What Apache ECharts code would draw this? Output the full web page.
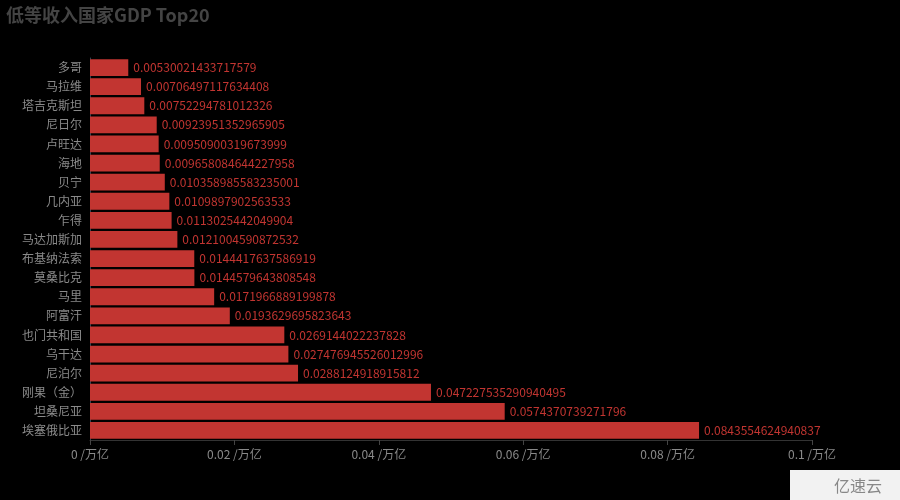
<!DOCTYPE html>
<html>
<head>
<meta charset="utf-8">
<script src="https://cdn.jsdelivr.net/npm/echarts@6/dist/echarts.min.js"></script>
<style>
    html, body { margin: 0; padding: 0; background: #000; }
    #main { width: 900px; height: 500px; }
</style>
</head>
<body>
<div id="main"></div>
<script>
// 国家（自下而上）
const countries = ['埃塞俄比亚', '坦桑尼亚', '刚果（金）', '尼泊尔', '乌干达', '也门共和国', '阿富汗', '马里',
    '莫桑比克', '布基纳法索', '马达加斯加', '乍得', '几内亚', '贝宁', '海地', '卢旺达', '尼日尔', '塔吉克斯坦', '马拉维', '多哥']
// GDP，单位：万亿
const gdp = [0.0843554624940837, 0.0574370739271796, 0.047227535290940495, 0.0288124918915812, 0.027476945526012996,
    0.0269144022237828, 0.0193629695823643, 0.0171966889199878, 0.0144579643808548, 0.0144417637586919,
    0.0121004590872532, 0.0113025442049904, 0.0109897902563533, 0.010358985583235001, 0.009658084644227958,
    0.00950900319673999, 0.00923951352965905, 0.00752294781012326, 0.00706497117634408, 0.00530021433717579]

const font = '"Noto Sans CJK SC", sans-serif'

const option = {
    backgroundColor: '#000000',
    title: {
        text: '低等收入国家GDP Top20',
        left: 1,
        top: 1,
        textStyle: { color: '#444444', fontSize: 18, fontWeight: 'bold', fontFamily: font }
    },
    grid: { left: 90, right: 88, top: 58, bottom: 60 },
    xAxis: {
        type: 'value',
        min: 0,
        max: 0.1,
        interval: 0.02,
        axisLine: { show: true, lineStyle: { color: '#333333' } },
        axisTick: { show: true, lineStyle: { color: '#444444' } },
        splitLine: { show: false },
        axisLabel: { color: '#8a8a8a', fontFamily: font, fontSize: 12, formatter: '{value} /万亿' }
    },
    yAxis: {
        type: 'category',
        data: countries,
        axisLine: { lineStyle: { color: '#2f4554' } },
        axisTick: { lineStyle: { color: '#2f4554' } },
        axisLabel: { color: '#8a8a8a', fontFamily: font, fontSize: 12 }
    },
    series: [{
        name: 'GDP',
        type: 'bar',
        data: gdp,
        barCategoryGap: '12%',
        itemStyle: { color: '#c23531' },
        label: {
            show: true,
            position: 'right',
            color: '#c23531',
            fontFamily: font,
            fontSize: 12
        }
    }],
    graphic: [{
        type: 'rect',
        right: 0,
        bottom: 0,
        shape: { width: 110, height: 30 },
        style: { fill: '#f2f2f2' }
    }, {
        type: 'text',
        right: 18,
        bottom: 6,
        style: { text: '亿速云', fill: '#888888', font: '16px "Noto Sans CJK SC"' }
    }]
}

const myChart = echarts.init(document.getElementById('main'))
myChart.setOption(option)
</script>
</body>
</html>
